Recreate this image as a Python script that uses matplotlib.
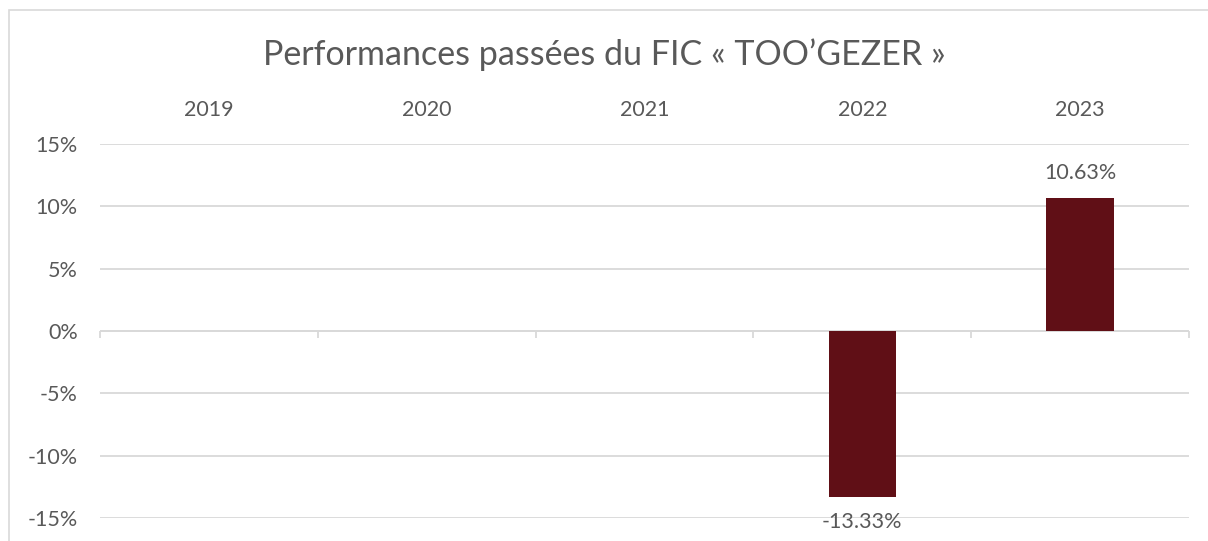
import numpy as np
import matplotlib.pyplot as plt
from matplotlib.patches import Rectangle

plt.rcParams['font.family'] = ['Lato', 'DejaVu Sans']

years = ['2019', '2020', '2021', '2022', '2023']
perf = [np.nan, np.nan, np.nan, -13.33, 10.63]
yticks = [-15, -10, -5, 0, 5, 10, 15]

title = 'Performances passées du FIC « TOO’GEZER »'
text_col = '#595959'
grid_col = '#D9D9D9'
bar_col = '#600F16'

W, H = 1208, 541
fig = plt.figure(figsize=(W / 100, H / 100), dpi=100)
ax = fig.add_axes([100 / W, (H - 518) / H, (1189 - 100) / W, (518 - 144) / H])

x = np.arange(len(years))
vals = np.array(perf, dtype=float)
ax.bar(x, np.nan_to_num(vals), width=0.31, color=bar_col, zorder=3)

for xi, v in zip(x, vals):
    if np.isnan(v):
        continue
    if v >= 0:
        ax.annotate(f'{v:.2f}%', (xi, v), xytext=(0, 11), textcoords='offset points',
                    ha='center', va='bottom', fontsize=15.5, color=text_col)
    else:
        ax.annotate(f'{v:.2f}%', (xi, v), xytext=(0, -11), textcoords='offset points',
                    ha='center', va='top', fontsize=15.5, color=text_col)

ax.set_xlim(-0.5, len(years) - 0.5)
ax.set_ylim(yticks[0], yticks[-1])
ax.set_yticks(yticks)
ax.set_yticklabels([f'{t}%' for t in yticks], fontsize=15.5, color=text_col)
ax.yaxis.grid(True, color=grid_col, linewidth=1.3, zorder=0)
ax.tick_params(axis='y', length=0, pad=16)

ax.set_xticks(x)
ax.set_xticklabels(years, fontsize=15.5, color=text_col)
ax.xaxis.tick_top()
ax.tick_params(axis='x', length=0, pad=17)

# category axis at zero with boundary ticks
ax.axhline(0, color=grid_col, linewidth=1.3, zorder=2)
bounds = np.arange(len(years) + 1) - 0.5
ax.vlines(bounds, -0.55, 0, color=grid_col, linewidth=1.3, zorder=2, clip_on=False)

for s in ax.spines.values():
    s.set_visible(False)

fig.text(0.5, (H - 55) / H, title, ha='center', va='center', fontsize=24.5, color=text_col)

fig.patches.append(Rectangle((9 / W, -0.1), 1.2, (H - 10) / H + 0.1, transform=fig.transFigure,
                             fill=False, edgecolor=grid_col, linewidth=1.2))

fig.savefig('out.png', dpi=100)
